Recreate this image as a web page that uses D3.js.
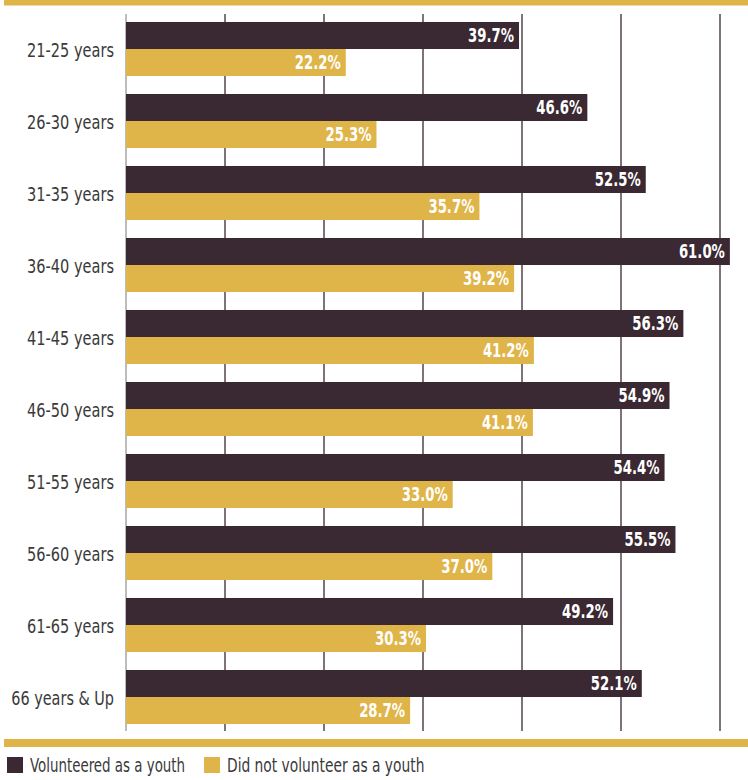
<!DOCTYPE html>
<html>
<head>
<meta charset="utf-8">
<script src="https://cdn.jsdelivr.net/npm/d3@7"></script>
<style>
  body { margin: 0; background: #fff; }
  svg text { font-family: "DejaVu Sans Condensed", "DejaVu Sans", sans-serif; font-stretch: condensed; }
</style>
</head>
<body>
<div id="chart"></div>
<script>
const size = { width: 748, height: 780 };

const categories = ["21-25 years", "26-30 years", "31-35 years", "36-40 years", "41-45 years",
    "46-50 years", "51-55 years", "56-60 years", "61-65 years", "66 years & Up"];
const seriesNames = ["Volunteered as a youth", "Did not volunteer as a youth"];
const volunteered = [39.7, 46.6, 52.5, 61.0, 56.3, 54.9, 54.4, 55.5, 49.2, 52.1];
const notVolunteered = [22.2, 25.3, 35.7, 39.2, 41.2, 41.1, 33.0, 37.0, 30.3, 28.7];
const gridTicks = [0, 10, 20, 30, 40, 50, 60];

const colors = ["#3a2832", "#dfb449"];

const svg = d3.select("#chart").append("svg")
    .attr("width", size.width).attr("height", size.height);

const x = d3.scaleLinear().domain([0, 60]).range([126, 720]);
const y = d3.scaleBand().domain(categories).range([13, 733])
    .paddingInner(0.25).paddingOuter(0.125);
const ySub = d3.scaleBand().domain([0, 1]).range([0, y.bandwidth()]);

// top and bottom gold rules
svg.append("rect").attr("x", 4).attr("y", 0).attr("width", size.width - 4).attr("height", 5.5)
    .attr("fill", colors[1]);
svg.append("rect").attr("x", 4).attr("y", 739).attr("width", size.width - 4).attr("height", 8)
    .attr("fill", colors[1]);

// gridlines
svg.selectAll(".grid").data(gridTicks).enter().append("line")
    .attr("class", "grid")
    .attr("x1", d => x(d)).attr("x2", d => x(d))
    .attr("y1", 14).attr("y2", 731)
    .attr("stroke", d => d === 0 ? "#9a9a9a" : "#3a2832")
    .attr("stroke-width", 1.3);

// bars
const rows = categories.map((c, i) => ({ cat: c, vals: [volunteered[i], notVolunteered[i]] }));
const groups = svg.selectAll(".row").data(rows).enter().append("g")
    .attr("class", "row")
    .attr("transform", d => "translate(0," + y(d.cat) + ")");

groups.selectAll("rect").data(d => d.vals).enter().append("rect")
    .attr("x", x(0))
    .attr("y", (d, i) => ySub(i))
    .attr("width", d => x(d) - x(0))
    .attr("height", ySub.bandwidth())
    .attr("fill", (d, i) => colors[i]);

groups.selectAll(".val").data(d => d.vals).enter().append("text")
    .attr("class", "val")
    .attr("x", d => x(d) - 5)
    .attr("y", (d, i) => ySub(i) + ySub.bandwidth() / 2)
    .attr("dy", "0.36em")
    .attr("text-anchor", "end")
    .attr("fill", "#fff")
    .style("font-weight", "bold")
    .style("font-size", "19px")
    .text(d => d.toFixed(1) + "%");

// category labels
svg.selectAll(".cat").data(categories).enter().append("text")
    .attr("class", "cat")
    .attr("x", 114)
    .attr("y", d => y(d) + y.bandwidth() / 2 + 1)
    .attr("dy", "0.36em")
    .attr("text-anchor", "end")
    .attr("fill", "#3a3a3a")
    .style("font-size", "19px")
    .text(d => d);

// legend
const legend = svg.selectAll(".legend").data(seriesNames).enter().append("g")
    .attr("class", "legend")
    .attr("transform", (d, i) => "translate(" + [7, 204][i] + ",757)");
legend.append("rect").attr("width", 16).attr("height", 16)
    .attr("fill", (d, i) => colors[i]);
legend.append("text").attr("class", "leg").attr("x", 23).attr("y", 8).attr("dy", "0.36em")
    .attr("fill", "#3a3a3a")
    .style("font-size", "19px")
    .text(d => d);

// keep the narrow look of the original typeface: squeeze text wider than the reference
svg.selectAll("text").each(function () {
    const el = this, w = el.getComputedTextLength(), n = el.textContent.length;
    const cls = el.getAttribute("class");
    let target;
    if (cls === "cat") target = Math.min(w, n * 7.9);
    else if (cls === "val") target = Math.min(w, 46);
    else target = Math.min(w, n * 7.05);
    if (target < w) d3.select(el).attr("textLength", target).attr("lengthAdjust", "spacingAndGlyphs");
});
</script>
</body>
</html>
